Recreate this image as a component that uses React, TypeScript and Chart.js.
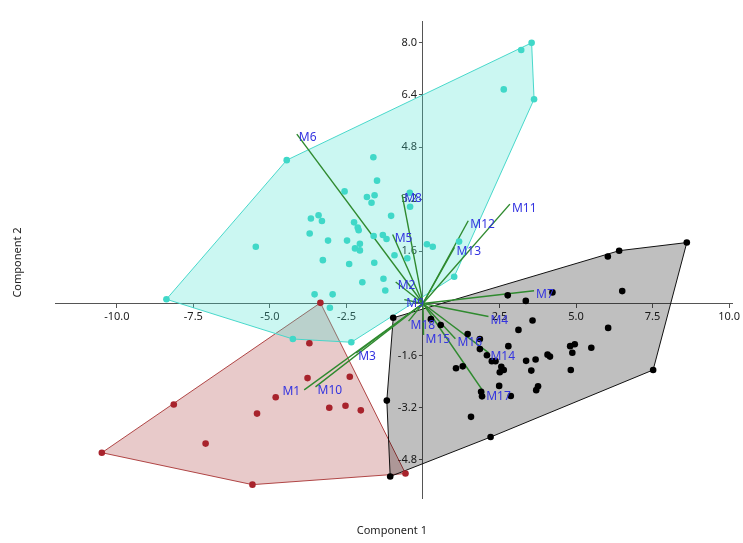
import React, { useEffect, useRef } from 'react';
import { Chart, registerables } from 'chart.js';

Chart.register(...registerables);

// ---------- axis ticks ----------
const xTickValues = [-10, -7.5, -5, -2.5, 2.5, 5, 7.5, 10];
const yTickValues = [-4.8, -3.2, -1.6, 1.6, 3.2, 4.8, 6.4, 8.0];
const xMin = -12.02;
const xMax = 10.12;
const yMin = -5.97;
const yMax = 8.67;

// ---------- group 1 (turquoise) ----------
const cyanX = [-8.38, -4.45, -1.62, -1.50, -2.56, -1.83, -1.58, -1.68, -0.43, -0.42, -1.04, -3.66, -3.41, -3.30, -2.25, -2.13, -2.10, -3.70, -3.10, -2.48, -2.06, -2.22, -2.06, -1.61, -1.31, -1.19, -5.46, -3.27, -2.41, -1.59, -0.93, -0.51, -1.98, -1.29, -1.23, -3.54, -2.95, -3.04, 0.13, 0.32, -4.25, -2.34, 1.18, 1.02, 3.55, 3.21, 2.64, 3.63];
const cyanY = [0.13, 4.40, 4.49, 3.77, 3.44, 3.27, 3.32, 3.09, 3.40, 2.97, 2.69, 2.61, 2.71, 2.53, 2.49, 2.33, 2.25, 2.15, 1.93, 1.93, 1.83, 1.69, 1.63, 2.07, 2.10, 1.98, 1.74, 1.33, 1.21, 1.25, 1.48, 1.39, 0.65, 0.76, 0.40, 0.28, 0.28, -0.13, 1.82, 1.74, -1.09, -1.19, 1.90, 0.82, 8.00, 7.78, 6.57, 6.27];

// ---------- group 2 (dark red) ----------
const redX = [-3.35, -3.71, -3.77, -2.39, -4.81, -5.42, -3.06, -2.53, -2.03, -8.14, -7.10, -10.49, -5.57, -0.57];
const redY = [0.02, -1.22, -2.29, -2.25, -2.88, -3.38, -3.20, -3.14, -3.28, -3.10, -4.30, -4.58, -5.56, -5.22];

// ---------- group 3 (black) ----------
const blackX = [8.62, 6.41, 6.04, 6.51, 4.23, 2.77, 3.36, 3.58, 3.12, 6.05, -0.97, 0.26, 0.58, 1.46, 1.86, 1.86, 2.09, 2.79, 2.25, 2.37, 1.08, 1.30, 2.56, 2.64, 2.51, 3.37, 3.54, 3.68, 4.07, 4.15, 4.81, 4.96, 4.88, 5.50, 4.83, 7.52, 2.49, 3.76, 3.70, 1.90, 1.93, 2.87, 1.57, -1.18, 2.21, -1.07];
const blackY = [1.87, 1.62, 1.44, 0.38, 0.34, 0.25, 0.08, -0.52, -0.81, -0.75, -0.44, -0.48, -0.66, -0.94, -1.09, -1.40, -1.59, -1.31, -1.77, -1.77, -1.99, -1.93, -1.94, -2.04, -2.11, -1.76, -2.06, -1.72, -1.57, -1.63, -1.31, -1.25, -1.51, -1.36, -2.04, -2.04, -2.53, -2.54, -2.66, -2.71, -2.85, -2.84, -3.48, -2.98, -4.10, -5.31];

// ---------- biplot loadings ----------
const loadingNames = ['M1', 'M2', 'M3', 'M4', 'M5', 'M6', 'M7', 'M8', 'M9', 'M10', 'M11', 'M12', 'M13', 'M14', 'M15', 'M16', 'M17', 'M18'];
const loadingX = [-3.88, -0.89, -2.18, 2.14, -0.99, -4.12, 3.63, -0.68, -0.61, -3.51, 2.84, 1.48, 1.03, 2.14, 0.02, 1.06, 2.00, -0.47];
const loadingY = [-2.65, 0.66, -1.52, -0.40, 2.12, 5.20, 0.39, 3.33, 0.12, -2.56, 3.05, 2.54, 1.72, -1.51, -0.97, -1.08, -2.74, -0.54];
const labelsLeftOfEnd = ['M1'];

const xTitle = 'Component 1';
const yTitle = 'Component 2';

type P = { x: number; y: number };

function toPoints(xs: number[], ys: number[]): P[] {
  return xs.map((x, i) => ({ x, y: ys[i] }));
}

function convexHull(points: P[]): P[] {
  const pts = [...points].sort((a, b) => (a.x === b.x ? a.y - b.y : a.x - b.x));
  const cross = (o: P, a: P, b: P) => (a.x - o.x) * (b.y - o.y) - (a.y - o.y) * (b.x - o.x);
  const lower: P[] = [];
  for (const p of pts) {
    while (lower.length >= 2 && cross(lower[lower.length - 2], lower[lower.length - 1], p) <= 0) lower.pop();
    lower.push(p);
  }
  const upper: P[] = [];
  for (let i = pts.length - 1; i >= 0; i--) {
    const p = pts[i];
    while (upper.length >= 2 && cross(upper[upper.length - 2], upper[upper.length - 1], p) <= 0) upper.pop();
    upper.push(p);
  }
  upper.pop();
  lower.pop();
  const h = lower.concat(upper);
  return h.concat([h[0]]);
}

const FONT = "'Noto Sans', 'DejaVu Sans', sans-serif";

// Place the vertical axis on x = 0 (the horizontal axis is already on y = 0)
const crossAxesPlugin = {
  id: 'crossAxes',
  afterLayout(chart: any) {
    const xs = chart.scales.x;
    const ys = chart.scales.y;
    const px = xs.getPixelForValue(0);
    ys.left = px - 60;
    ys.right = px;
    ys.width = 60;
  },
};

const overlayPlugin = {
  id: 'biplotOverlay',
  afterDatasetsDraw(chart: any) {
    const ctx = chart.ctx as CanvasRenderingContext2D;
    const xs = chart.scales.x;
    const ys = chart.scales.y;
    ctx.save();
    ctx.font = `12px ${FONT}`;
    ctx.fillStyle = '#3434e0';
    ctx.textBaseline = 'middle';
    loadingNames.forEach((name, i) => {
      const px = xs.getPixelForValue(loadingX[i]);
      const py = ys.getPixelForValue(loadingY[i]);
      if (labelsLeftOfEnd.includes(name)) {
        ctx.textAlign = 'right';
        ctx.fillText(name, px - 4, py + 2);
      } else {
        ctx.textAlign = 'left';
        ctx.fillText(name, px + 2, py + 4);
      }
    });
    // axis titles
    const area = chart.chartArea;
    ctx.fillStyle = '#222222';
    ctx.font = `11px ${FONT}`;
    ctx.textAlign = 'center';
    ctx.fillText(xTitle, (area.left + area.right) / 2 - 2, chart.height - 12);
    ctx.translate(18, (area.top + area.bottom) / 2 + 3);
    ctx.rotate(-Math.PI / 2);
    ctx.fillText(yTitle, 0, 0);
    ctx.restore();
  },
};

export default function App() {
  const canvasRef = useRef<HTMLCanvasElement | null>(null);

  useEffect(() => {
    if (!canvasRef.current) return;
    const cyanPts = toPoints(cyanX, cyanY);
    const redPts = toPoints(redX, redY);
    const blackPts = toPoints(blackX, blackY);

    const hullStyle = (fill: string, stroke: string, order: number) => ({
      type: 'line' as const,
      borderColor: stroke,
      backgroundColor: fill,
      borderWidth: 1,
      pointRadius: 0,
      fill: 'shape',
      tension: 0,
      order,
    });

    const loadingSets = loadingNames.map((name, i) => ({
      type: 'line' as const,
      label: name,
      data: [
        { x: 0, y: 0 },
        { x: loadingX[i], y: loadingY[i] },
      ],
      borderColor: '#2f8a2f',
      borderWidth: 1.4,
      pointRadius: 0,
      fill: false,
      order: 5,
    }));

    const pointStyle = (color: string) => ({
      type: 'scatter' as const,
      backgroundColor: color,
      borderColor: color,
      borderWidth: 0,
      pointRadius: 3.3,
      pointHoverRadius: 3.3,
      order: 1,
    });

    const chart = new Chart(canvasRef.current, {
      type: 'scatter',
      data: {
        datasets: [
          { ...hullStyle('rgba(165,42,42,0.25)', 'rgba(165,42,42,0.85)', 10), data: convexHull(redPts) } as any,
          { ...hullStyle('rgba(64,224,208,0.27)', 'rgba(64,214,200,0.95)', 9), data: convexHull(cyanPts) } as any,
          { ...hullStyle('rgba(0,0,0,0.25)', '#111111', 8), data: convexHull(blackPts) } as any,
          ...loadingSets,
          { ...pointStyle('#40d8c8'), data: cyanPts },
          { ...pointStyle('#a8232c'), data: redPts },
          { ...pointStyle('#000000'), data: blackPts },
        ],
      },
      options: {
        responsive: false,
        animation: false,
        layout: { padding: { left: 55, right: 6, top: 21, bottom: 45 } },
        plugins: { legend: { display: false }, tooltip: { enabled: false } },
        events: [],
        scales: {
          x: {
            type: 'linear',
            min: xMin,
            max: xMax,
            position: { y: 0 } as any,
            afterFit: (s: any) => { s.height = 0; },
            afterBuildTicks: (s: any) => { s.ticks = xTickValues.map((v) => ({ value: v })); },
            grid: { drawOnChartArea: false, drawTicks: true, tickLength: 4, color: '#555555' },
            border: { display: true, color: '#555555', width: 1 },
            ticks: {
              padding: 3,
              color: '#222222',
              font: { family: FONT, size: 11 },
              callback: (v: any) => Number(v).toFixed(1),
            },
          },
          y: {
            type: 'linear',
            min: yMin,
            max: yMax,
            position: 'left',
            afterFit: (s: any) => { s.width = 0; },
            afterBuildTicks: (s: any) => { s.ticks = yTickValues.map((v) => ({ value: v })); },
            grid: { drawOnChartArea: false, drawTicks: true, tickLength: 4, color: '#555555' },
            border: { display: true, color: '#555555', width: 1 },
            ticks: {
              padding: 2,
              color: '#222222',
              font: { family: FONT, size: 11 },
              callback: (v: any) => Number(v).toFixed(1),
            },
          },
        },
      },
      plugins: [crossAxesPlugin, overlayPlugin],
    });
    return () => chart.destroy();
  }, []);

  return (
    <div style={{ position: 'absolute', left: 0, top: 0, width: 743, height: 543, background: '#ffffff' }}>
      <canvas ref={canvasRef} width={743} height={543} style={{ display: 'block' }} />
    </div>
  );
}
